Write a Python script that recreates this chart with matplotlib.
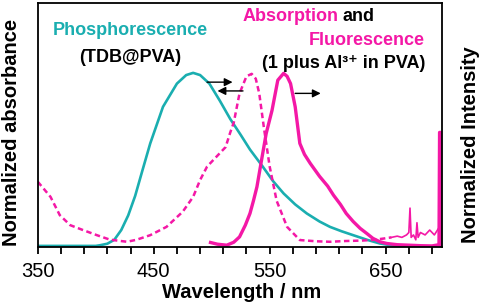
import numpy as np
import matplotlib
matplotlib.use("Agg")
from matplotlib import pyplot as plt

plt.rcParams['font.family'] = ['Liberation Sans', 'DejaVu Sans']

teal = "#1AAEB0"
pink = "#F418A6"

# phosphorescence (TDB@PVA)
phos_wl = [350, 380, 400, 404, 410, 416, 422, 428, 434, 440, 447, 458, 470, 478, 484, 490, 498, 507, 516,
           525, 533, 544, 553, 562, 572, 582, 593, 602, 612, 622, 634, 645, 655, 662, 666]
phos_int = [0.005, 0.005, 0.005, 0.008, 0.014, 0.03, 0.07, 0.13, 0.21, 0.31, 0.425, 0.575, 0.67, 0.705, 0.714,
            0.705, 0.67, 0.60, 0.525, 0.46, 0.40, 0.33, 0.27, 0.22, 0.175, 0.138, 0.105, 0.083, 0.065,
            0.049, 0.03, 0.015, 0.007, 0.003, 0.0]

# absorption (1 plus Al3+ in PVA)
abs_wl = [350, 355, 361, 369, 378, 389, 401, 412, 420, 427, 435, 447, 461, 475, 484, 490, 496, 504,
          512, 516, 519, 524, 530, 534.5, 538, 541, 545, 550, 556, 565, 576, 590, 602, 615, 630, 640,
          648, 655]
abs_val = [0.268, 0.24, 0.206, 0.131, 0.09, 0.07, 0.049, 0.031, 0.026, 0.022, 0.03, 0.049, 0.083, 0.145,
           0.206, 0.275, 0.33, 0.37, 0.41, 0.47, 0.51, 0.63, 0.70, 0.71, 0.69, 0.63, 0.49, 0.33, 0.19,
           0.083, 0.029, 0.024, 0.022, 0.025, 0.027, 0.03, 0.035, 0.04]
# noisy tail of the absorption
tail_wl = [655, 660, 664, 668, 670, 671, 672, 674, 676, 677, 678, 680, 684, 688, 692, 696, 698]
tail_val = [0.04, 0.045, 0.04, 0.05, 0.06, 0.16, 0.04, 0.05, 0.03, 0.10, 0.04, 0.06, 0.05, 0.07, 0.05,
            0.08, 0.05]

# fluorescence (1 plus Al3+ in PVA)
fl_wl = [499, 505, 513, 519, 524, 529, 533, 536, 539, 543, 547, 552, 557, 562, 565, 568, 572, 576,
         580, 585, 593, 600, 605, 611, 616, 622, 628, 634, 639, 645, 651, 660, 670, 680, 690, 696,
         696.5, 697.5, 698]
fl_int = [0.019, 0.012, 0.008, 0.02, 0.042, 0.09, 0.138, 0.19, 0.247, 0.357, 0.466, 0.56, 0.684, 0.712,
          0.70, 0.67, 0.575, 0.425, 0.38, 0.343, 0.29, 0.25, 0.213, 0.175, 0.138, 0.105, 0.077, 0.055,
          0.036, 0.022, 0.015, 0.01, 0.008, 0.006, 0.005, 0.01, 0.47, 0.47, 0.0]

fig = plt.figure(figsize=(4.84, 3.07), dpi=100)
ax = fig.add_axes([0.078, 0.195, 0.835, 0.795])

ax.plot(phos_wl, phos_int, color=teal, lw=1.9)
ax.plot(abs_wl, abs_val, color=pink, lw=1.8, dashes=(2.2, 1.4))
ax.plot(tail_wl, tail_val, color=pink, lw=1.2)
ax.plot(fl_wl, fl_int, color=pink, lw=2.4)

ax.set_xlim(350, 698.5)
ax.set_ylim(0, 1.0)
ax.set_yticks([])
ticks = np.arange(350, 691, 20)
ax.set_xticks(ticks)
ax.set_xticklabels([str(t) if t in (350, 450, 550, 650) else "" for t in ticks])
ax.tick_params(axis='x', direction='out', length=5, width=1.3, labelsize=14.5, pad=6)
for s in ax.spines.values():
    s.set_linewidth(1.3)

fig.text(241.5/484, 1-293/307, "Wavelength / nm", fontsize=14.5, fontweight='bold',
         ha='center', va='center')
fig.text(12/484, 1-132.5/307, "Normalized absorbance", rotation=90, fontsize=14.5, fontweight='bold',
         ha='center', va='center')
fig.text(470.5/484, 1-144.5/307, "Normalized Intensity", rotation=90, fontsize=14.5, fontweight='bold',
         ha='center', va='center')

# arrows
arr = dict(arrowstyle='-|>', color='k', lw=1.0, mutation_scale=12, shrinkA=0, shrinkB=0)
ax.annotate("", xy=(518, 0.676), xytext=(496, 0.676), arrowprops=arr)
ax.annotate("", xy=(505, 0.64), xytext=(527, 0.64), arrowprops=arr)
ax.annotate("", xy=(594, 0.63), xytext=(572, 0.63), arrowprops=arr)

# labels
ax.text(430, 0.889, "Phosphorescence", color=teal, fontsize=13, fontweight='bold', ha='center', va='center')
ax.text(430, 0.779, "(TDB@PVA)", color='k', fontsize=13, fontweight='bold', ha='center', va='center')
ax.text(527, 0.943, "Absorption", color=pink, fontsize=13, fontweight='bold', ha='left', va='center')
ax.text(613, 0.943, "and", color='k', fontsize=13, fontweight='bold', ha='left', va='center')
ax.text(684, 0.848, "Fluorescence", color=pink, fontsize=13, fontweight='bold', ha='right', va='center')
ax.text(684, 0.754, "(1 plus Al³⁺ in PVA)", color='k', fontsize=13, fontweight='bold', ha='right', va='center')

fig.savefig("out.png", dpi=100)
